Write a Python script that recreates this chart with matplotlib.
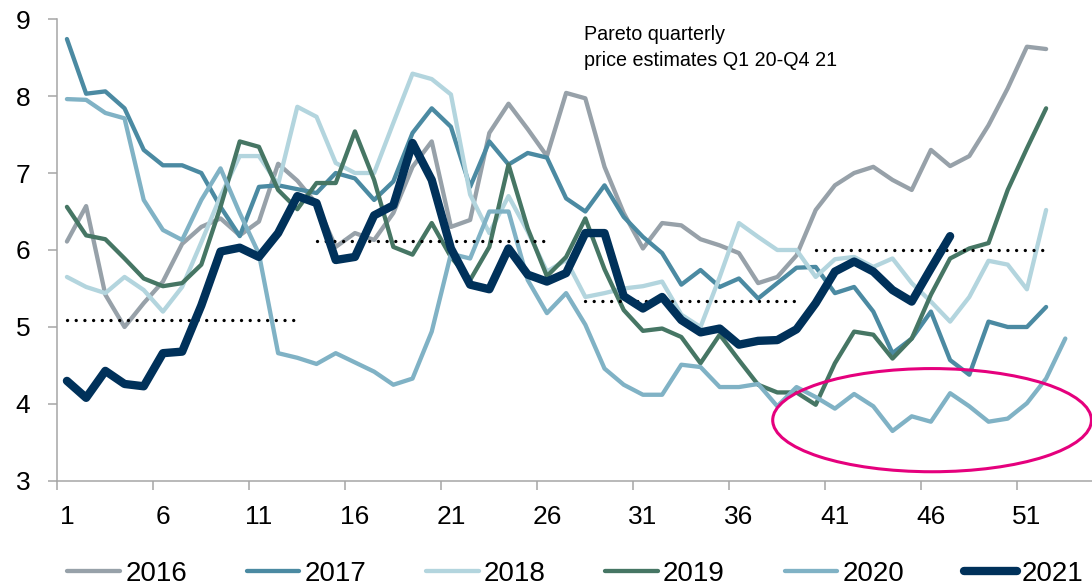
import matplotlib.pyplot as plt
from matplotlib.patches import Ellipse

plt.rcParams['font.family'] = ['Liberation Sans', 'DejaVu Sans']

# weekly prices per year
y2016 = [6.11, 6.57, 5.42, 5.00, 5.31, 5.59, 6.08, 6.30, 6.41, 6.19, 6.37, 7.12, 6.90,
         6.60, 6.04, 6.22, 6.13, 6.48, 7.08, 7.41, 6.30, 6.39, 7.52, 7.90, 7.57, 7.22,
         8.04, 7.97, 7.08, 6.48, 6.02, 6.35, 6.32, 6.14, 6.06, 5.96, 5.57, 5.65, 5.93,
         6.52, 6.84, 7.00, 7.08, 6.91, 6.78, 7.30, 7.09, 7.22, 7.62, 8.10, 8.64, 8.61]
y2017 = [8.74, 8.03, 8.06, 7.84, 7.30, 7.10, 7.10, 7.00, 6.56, 6.18, 6.82, 6.84, 6.79,
         6.74, 7.00, 6.93, 6.65, 6.89, 7.52, 7.84, 7.60, 6.82, 7.41, 7.11, 7.26, 7.20,
         6.67, 6.50, 6.84, 6.43, 6.17, 5.96, 5.55, 5.74, 5.52, 5.63, 5.37, 5.57, 5.77,
         5.78, 5.44, 5.52, 5.20, 4.66, 4.85, 5.20, 4.57, 4.38, 5.07, 5.00, 5.00, 5.26]
y2018 = [5.65, 5.52, 5.44, 5.65, 5.48, 5.20, 5.52, 6.10, 6.70, 7.22, 7.22, 6.85, 7.86,
         7.73, 7.13, 7.00, 7.00, 7.65, 8.29, 8.22, 8.02, 6.72, 6.22, 6.70, 6.24, 5.72,
         5.87, 5.39, 5.44, 5.50, 5.53, 5.59, 5.16, 5.00, 5.65, 6.35, 6.17, 6.00, 6.00,
         5.65, 5.88, 5.91, 5.78, 5.89, 5.57, 5.33, 5.07, 5.39, 5.86, 5.81, 5.49, 6.52]
y2019 = [6.56, 6.19, 6.14, 5.89, 5.63, 5.53, 5.57, 5.81, 6.56, 7.41, 7.34, 6.78, 6.53,
         6.87, 6.87, 7.54, 6.91, 6.04, 5.94, 6.35, 5.91, 5.61, 6.04, 7.11, 6.28, 5.66,
         5.91, 6.41, 5.75, 5.22, 4.95, 4.98, 4.87, 4.53, 4.90, 4.57, 4.25, 4.15, 4.15,
         3.99, 4.53, 4.94, 4.90, 4.59, 4.85, 5.42, 5.89, 6.02, 6.09, 6.78, 7.32, 7.84]
y2020 = [7.96, 7.95, 7.78, 7.71, 6.65, 6.26, 6.13, 6.65, 7.06, 6.48, 5.95, 4.66, 4.60,
         4.52, 4.66, 4.54, 4.42, 4.25, 4.33, 4.94, 5.95, 5.89, 6.50, 6.50, 5.61, 5.18,
         5.44, 5.03, 4.46, 4.25, 4.12, 4.12, 4.51, 4.48, 4.22, 4.22, 4.26, 3.97, 4.22,
         4.09, 3.94, 4.13, 3.97, 3.65, 3.84, 3.77, 4.14, 3.97, 3.77, 3.81, 4.01, 4.33,
         4.85]
y2021 = [4.30, 4.08, 4.43, 4.26, 4.23, 4.66, 4.68, 5.28, 5.98, 6.03, 5.91, 6.22, 6.70,
         6.61, 5.87, 5.91, 6.45, 6.58, 7.39, 6.91, 6.02, 5.55, 5.49, 6.02, 5.68, 5.59,
         5.70, 6.22, 6.22, 5.40, 5.24, 5.39, 5.09, 4.93, 4.98, 4.77, 4.82, 4.83, 4.97,
         5.31, 5.72, 5.85, 5.72, 5.48, 5.33, 5.76, 6.18]

years = ['2016', '2017', '2018', '2019', '2020', '2021']
series = [y2016, y2017, y2018, y2019, y2020, y2021]
colors = ['#97A1A9', '#4B8AA2', '#B3D5DE', '#467664', '#80B2C5', '#00315A']
widths = [3.1, 3.1, 3.1, 3.1, 3.1, 6.0]

# Pareto quarterly estimates: (first week, last week, price)
quarters = [(1, 13, 5.09), (14, 26, 6.12), (28, 39, 5.34), (40, 52, 6.00)]

fig = plt.figure(figsize=(10.92, 5.85), dpi=100)
ax = fig.add_axes([0.0525, 0.1778, 0.9475, 0.7897])

for i in range(5):
    ax.plot(range(1, len(series[i]) + 1), series[i], color=colors[i], lw=widths[i],
            solid_capstyle='round', solid_joinstyle='round', label=years[i])

for start, end, price in quarters:
    ax.plot([start, end], [price, price], color='black', lw=2.4,
            linestyle=(0, (0.01, 2.6)), dash_capstyle='round', label='_nolegend_')

ax.plot(range(1, len(y2021) + 1), y2021, color=colors[5], lw=widths[5],
        solid_capstyle='round', solid_joinstyle='round', label=years[5])

ax.add_patch(Ellipse((46.06, 3.79), 16.6, 1.34, fill=False, edgecolor='#E5007D',
                     lw=2.2, clip_on=False, zorder=5))

ax.set_xlim(0.5, 54.39)
ax.set_ylim(3, 9)
ax.set_yticks(range(3, 10))
ax.set_xticks([0.5 + 5 * n for n in range(11)])
ax.set_xticklabels([])
ax.set_xticks([1 + 5 * n for n in range(11)], minor=True)
ax.set_xticklabels([str(1 + 5 * n) for n in range(11)], minor=True)

for side in ['top', 'right']:
    ax.spines[side].set_visible(False)
for side in ['left', 'bottom']:
    ax.spines[side].set_color('#A6A6A6')
    ax.spines[side].set_linewidth(1.1)
ax.tick_params(axis='both', which='major', direction='out', length=6.5, width=1.1,
               color='#A6A6A6', labelsize=19)
ax.tick_params(axis='y', pad=13)
ax.tick_params(axis='x', which='minor', length=0, pad=17, labelsize=19)

fig.text(0.5348, 0.957, 'Pareto quarterly\nprice estimates Q1 20-Q4 21',
         fontsize=14.2, va='top', linespacing=1.45)

ax.legend(loc='center', bbox_to_anchor=(0.527, 0.019), bbox_transform=fig.transFigure,
          ncol=6, frameon=False, fontsize=20, handlelength=1.9, handletextpad=0.18,
          columnspacing=2.15)

fig.savefig('out.png', dpi=100)
